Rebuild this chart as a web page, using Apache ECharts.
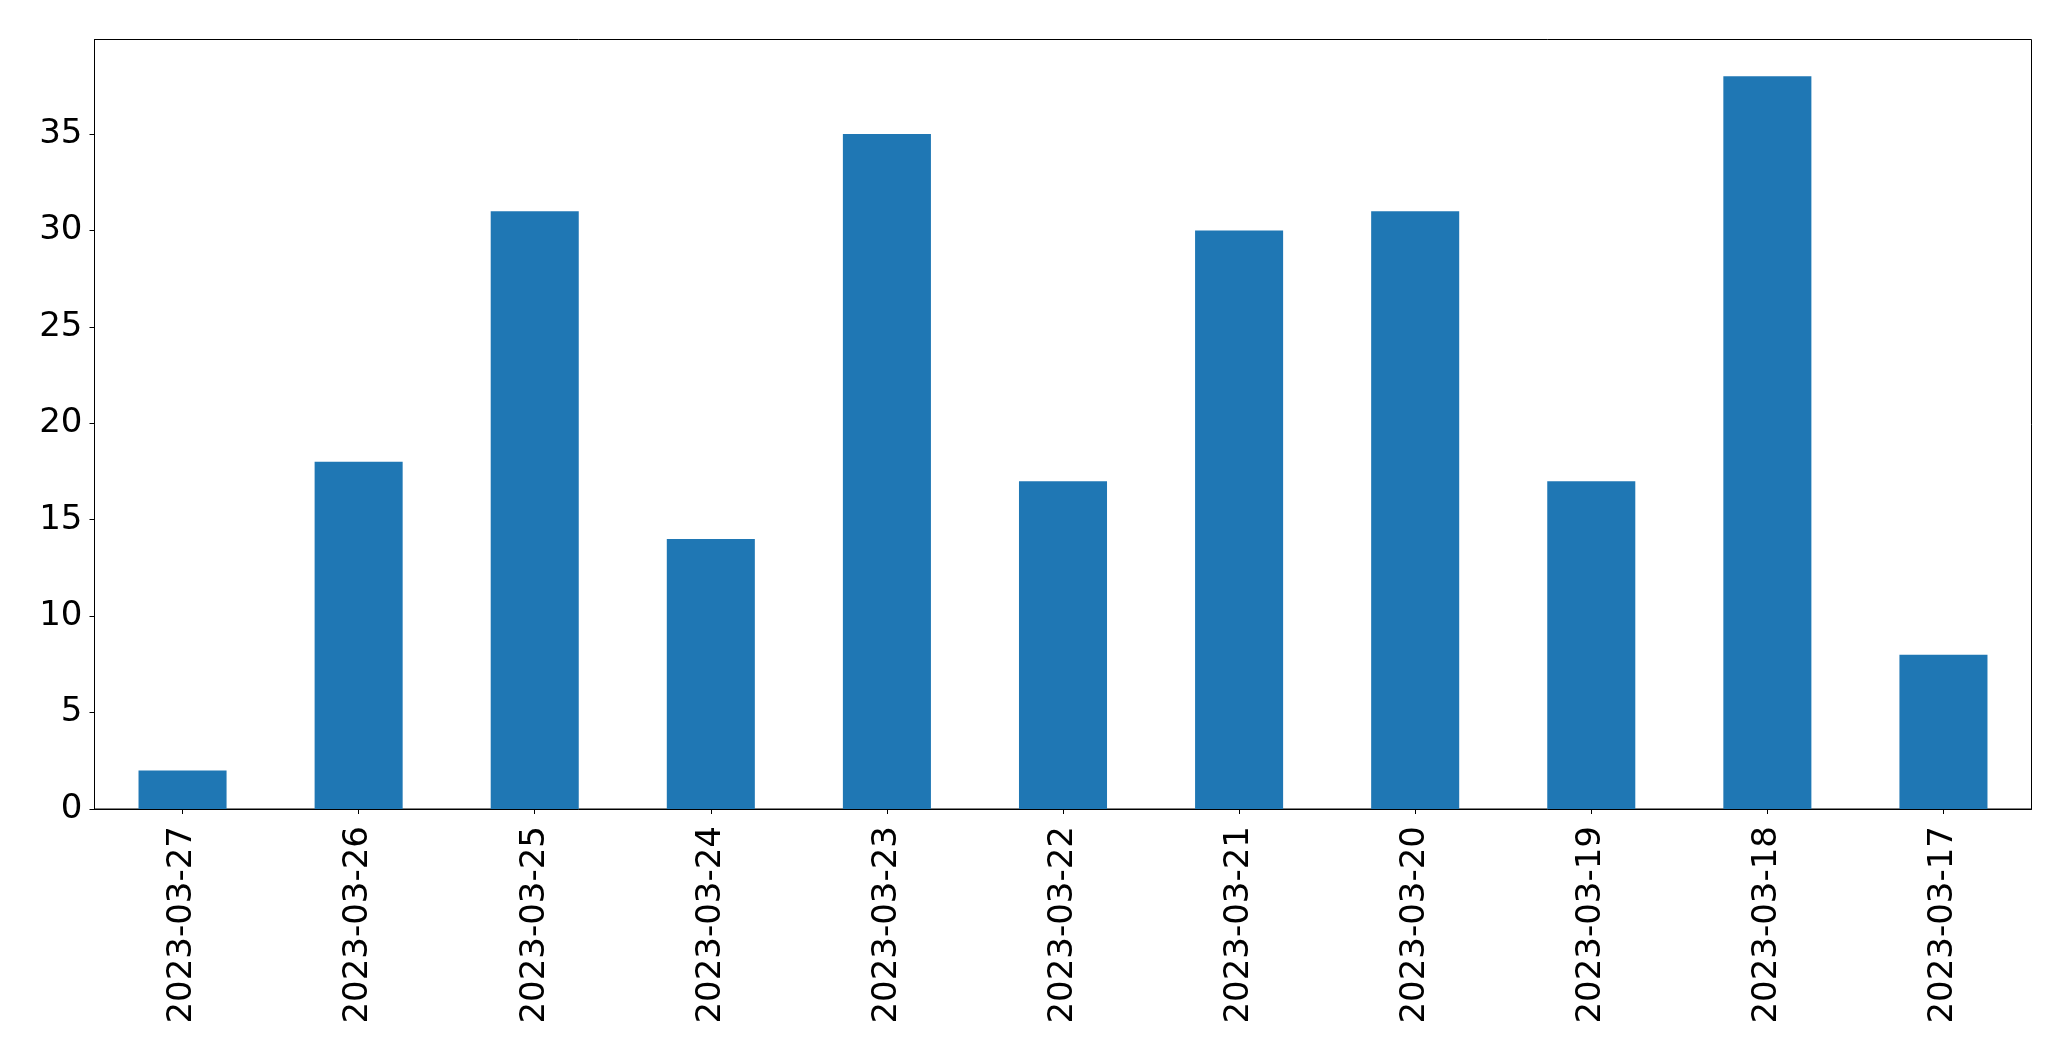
<!DOCTYPE html>
<html><head><meta charset="utf-8">
<script src="https://cdn.jsdelivr.net/npm/echarts@6/dist/echarts.min.js"></script>
<style>html,body{margin:0;padding:0;background:#fff}#c{width:2071px;height:1061px}</style>
</head><body><div id="c"></div>
<script>
const categories = ["2023-03-27","2023-03-26","2023-03-25","2023-03-24","2023-03-23","2023-03-22","2023-03-21","2023-03-20","2023-03-19","2023-03-18","2023-03-17"];
const values = [2,18,31,14,35,17,30,31,17,38,8];
const yTicks = [0,5,10,15,20,25,30,35];
const yMax = 39.9;

const chart = echarts.init(document.getElementById('c'), null, {renderer:'canvas'});
const font = 'DejaVu Sans';
chart.setOption({
  animation: false,
  backgroundColor: '#fff',
  grid: {left: 94.5, right: 39.5, top: 39.5, bottom: 252, show: true, borderColor: '#000', borderWidth: 1, backgroundColor: 'transparent'},
  xAxis: {
    type: 'category', data: categories, boundaryGap: true,
    axisLine: {show: true, lineStyle: {color: '#000', width: 1}},
    axisTick: {show: true, alignWithLabel: true, length: 5, lineStyle: {color: '#000', width: 1}},
    axisLabel: {rotate: 90, fontSize: 34, fontFamily: font, color: '#000', margin: 17, interval: 0},
    splitLine: {show: false}
  },
  yAxis: {
    type: 'value', min: 0, max: yMax,
    axisLine: {show: true, lineStyle: {color: '#000', width: 1}},
    axisTick: {show: true, length: 5, customValues: yTicks, lineStyle: {color: '#000', width: 1}},
    axisLabel: {fontSize: 34, fontFamily: font, color: '#000', margin: 12, customValues: yTicks},
    splitLine: {show: false}
  },
  series: [{type: 'bar', data: values, barWidth: '50%', itemStyle: {color: '#1f77b4'}}]
});
</script></body></html>
